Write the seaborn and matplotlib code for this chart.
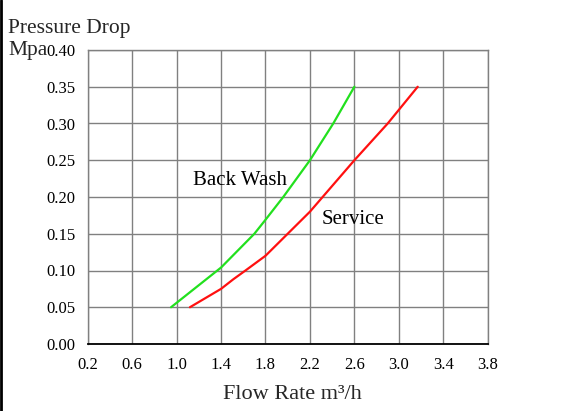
import matplotlib
matplotlib.use("Agg")
import matplotlib.pyplot as plt
import seaborn as sns
import pandas as pd
from matplotlib.lines import Line2D

# ---- data ----
backwash_flow = [0.95, 1.4, 1.7, 1.8, 1.96, 2.2, 2.41, 2.6]
backwash_dp = [0.05, 0.104, 0.15, 0.169, 0.20, 0.25, 0.30, 0.35]

service_flow = [1.12, 1.4, 1.51, 1.62, 1.8, 2.0, 2.2, 2.6, 2.9, 3.17]
service_dp = [0.05, 0.075, 0.088, 0.10, 0.12, 0.15, 0.18, 0.25, 0.30, 0.35]

x_ticks = [0.2, 0.6, 1.0, 1.4, 1.8, 2.2, 2.6, 3.0, 3.4, 3.8]
x_tick_labels = ["0.2", "0.6", "1.0", "1.4", "1.8", "2.2", "2.6", "3.0", "3.4", "3.8"]
y_ticks = [0.00, 0.05, 0.10, 0.15, 0.20, 0.25, 0.30, 0.35, 0.40]
y_tick_labels = ["0.00", "0.05", "0.10", "0.15", "0.20", "0.25", "0.30", "0.35", "0.40"]

df = pd.concat([
    pd.DataFrame({"flow": backwash_flow, "dp": backwash_dp, "series": "Back Wash"}),
    pd.DataFrame({"flow": service_flow, "dp": service_dp, "series": "Service"}),
], ignore_index=True)

sns.set_theme(style="white")
plt.rcParams["font.family"] = ["Liberation Serif", "DejaVu Serif"]

fig = plt.figure(figsize=(5.8, 4.11), dpi=100)
ax = fig.add_axes([87.7 / 580, 1 - 344 / 411, 400 / 580, 294 / 411])

sns.lineplot(data=df, x="flow", y="dp", hue="series", sort=False,
             palette={"Back Wash": "#22e01e", "Service": "#ff1010"},
             linewidth=1.6, legend=False, ax=ax, zorder=3)

ax.set_xlim(0.2, 3.8)
ax.set_ylim(0.0, 0.40)
ax.set_xticks(x_ticks)
ax.set_xticklabels(x_tick_labels)
ax.set_yticks(y_ticks)
ax.set_yticklabels(y_tick_labels)
ax.tick_params(axis="both", length=0, labelsize=12, colors="black")
ax.tick_params(axis="y", pad=9)
ax.tick_params(axis="x", pad=9)
ax.grid(True, color="#808080", linewidth=1.0)
ax.set_axisbelow(True)
for side in ["left", "top", "right"]:
    ax.spines[side].set_color("#808080")
    ax.spines[side].set_linewidth(1.0)
ax.spines["bottom"].set_color("black")
ax.spines["bottom"].set_linewidth(1.3)
ax.set_xlabel("")
ax.set_ylabel("")

ax.text(1.15, 0.216, "Back Wash", fontsize=15, color="black", ha="left", va="baseline")
ax.text(2.306, 0.163, "Service", fontsize=15, color="black", ha="left", va="baseline")

fig.text(8 / 580, 1 - 33 / 411, "Pressure Drop", fontsize=15.5, ha="left", va="baseline")
fig.text(8 / 580, 1 - 55 / 411, "Mpa", fontsize=15.5, ha="left", va="baseline")
fig.text(292 / 580, 1 - 399 / 411, "Flow Rate m\u00b3/h", fontsize=16, ha="center", va="baseline")

# left black border of the picture
fig.add_artist(Line2D([1 / 580, 1 / 580], [0, 1], color="black", linewidth=2.0,
                      transform=fig.transFigure))

fig.savefig("out.png", dpi=100)
